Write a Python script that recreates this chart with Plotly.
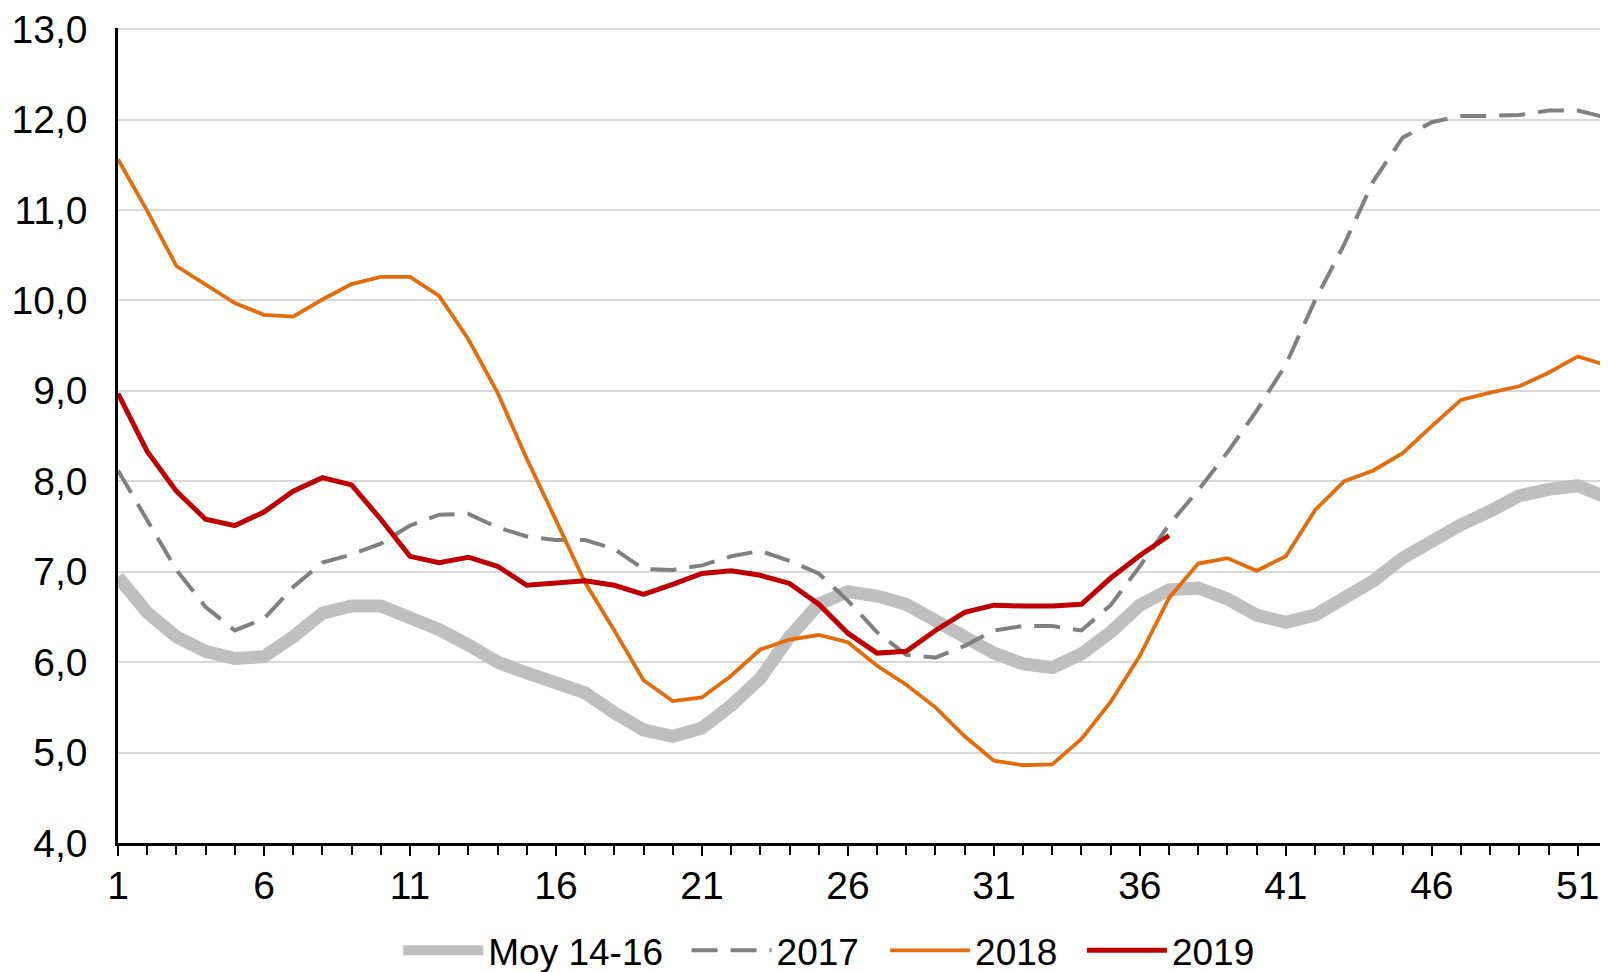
import plotly.graph_objects as go

weeks = list(range(1, 53))

moy_14_16 = [6.94, 6.55, 6.28, 6.12, 6.04, 6.06, 6.28, 6.54, 6.62, 6.62,
             6.49, 6.36, 6.19, 6.0, 5.88, 5.78, 5.66, 5.44, 5.25, 5.18,
             5.27, 5.52, 5.82, 6.28, 6.64, 6.78, 6.73, 6.64, 6.46, 6.27,
             6.1, 5.98, 5.94, 6.09, 6.33, 6.63, 6.8, 6.82, 6.7, 6.52,
             6.44, 6.52, 6.7, 6.9, 7.15, 7.35, 7.52, 7.67, 7.84, 7.91,
             7.95, 7.82]

y2017 = [8.12, 7.56, 7.02, 6.61, 6.35, 6.48, 6.83, 7.1, 7.19, 7.31,
         7.51, 7.63, 7.64, 7.49, 7.39, 7.35, 7.35, 7.25, 7.03, 7.02,
         7.07, 7.17, 7.23, 7.12, 6.98, 6.68, 6.33, 6.08, 6.05, 6.18,
         6.35, 6.4, 6.4, 6.35, 6.63, 7.06, 7.52, 7.9, 8.32, 8.78,
         9.29, 10.0, 10.62, 11.32, 11.8, 11.97, 12.04, 12.04, 12.05, 12.1,
         12.1, 12.02]

y2018 = [11.56, 10.99, 10.38, 10.17, 9.97, 9.84, 9.82, 10.01, 10.18, 10.26,
         10.26, 10.05, 9.57, 8.98, 8.25, 7.57, 6.88, 6.35, 5.8, 5.57,
         5.61, 5.85, 6.14, 6.25, 6.3, 6.22, 5.96, 5.75, 5.5, 5.18,
         4.91, 4.86, 4.87, 5.15, 5.56, 6.07, 6.71, 7.09, 7.15, 7.01,
         7.17, 7.68, 8.0, 8.12, 8.31, 8.61, 8.9, 8.98, 9.05, 9.2,
         9.38, 9.28]

y2019 = [8.97, 8.33, 7.89, 7.58, 7.51, 7.66, 7.89, 8.04, 7.96, 7.58,
         7.17, 7.1, 7.16, 7.06, 6.85, 6.88, 6.9, 6.85, 6.75, 6.86,
         6.98, 7.01, 6.96, 6.87, 6.64, 6.32, 6.1, 6.12, 6.35, 6.55,
         6.63, 6.62, 6.62, 6.64, 6.93, 7.18, 7.4]

x_tickvals = [1, 6, 11, 16, 21, 26, 31, 36, 41, 46, 51]
y_tickvals = [4, 5, 6, 7, 8, 9, 10, 11, 12, 13]

FONT = "Liberation Sans, Arial, sans-serif"
FS = 39
LFS = 37

fig = go.Figure()
fig.add_trace(go.Scatter(x=weeks, y=moy_14_16, mode="lines", name="Moy 14-16",
                         legend="legend",
                         line=dict(color="#bfbfbf", width=13)))
fig.add_trace(go.Scatter(x=weeks, y=y2017, mode="lines", name="2017",
                         legend="legend2",
                         line=dict(color="#808080", width=4, dash="26px,13px")))
fig.add_trace(go.Scatter(x=weeks, y=y2018, mode="lines", name="2018",
                         legend="legend3",
                         line=dict(color="#e46c0a", width=3.8)))
fig.add_trace(go.Scatter(x=weeks[:len(y2019)], y=y2019, mode="lines", name="2019",
                         legend="legend4",
                         line=dict(color="#c00000", width=5)))


def leg(xpos):
    return dict(orientation="h", xref="container", x=xpos, xanchor="left",
                yref="container", y=0.022, yanchor="middle",
                font=dict(size=LFS, family=FONT, color="black"),
                itemwidth=80, bgcolor="rgba(0,0,0,0)")


fig.update_layout(
    width=1600, height=964,
    margin=dict(l=110, r=1, t=20, b=129),
    paper_bgcolor="white", plot_bgcolor="white",
    separators=", ",
    font=dict(family=FONT, size=FS, color="black"),
    showlegend=True,
    legend=leg(0.2439),
    legend2=leg(0.4241),
    legend3=leg(0.5482),
    legend4=leg(0.6712),
)
fig.update_xaxes(
    range=[1, 52], tickmode="array", tickvals=x_tickvals,
    showline=True, linecolor="black", linewidth=2.5,
    ticks="outside", ticklen=10, tickwidth=2, tickcolor="black",
    minor=dict(dtick=1, tick0=1, ticks="outside", ticklen=9, tickwidth=2, tickcolor="black", showgrid=False),
    showgrid=False, zeroline=False, ticklabelstandoff=-4, automargin=False,
    ticklabeloverflow="allow",
    tickfont=dict(size=FS),
)
fig.update_yaxes(
    range=[4, 13.012], tickmode="array", tickvals=y_tickvals, tickformat=".1f",
    showline=True, linecolor="black", linewidth=2.5,
    ticks="", showgrid=True, gridcolor="#d9d9d9", gridwidth=2,
    zeroline=False, ticklabelstandoff=20, automargin=False,
    ticklabeloverflow="allow",
    tickfont=dict(size=FS),
)

fig.write_html("out.html")
